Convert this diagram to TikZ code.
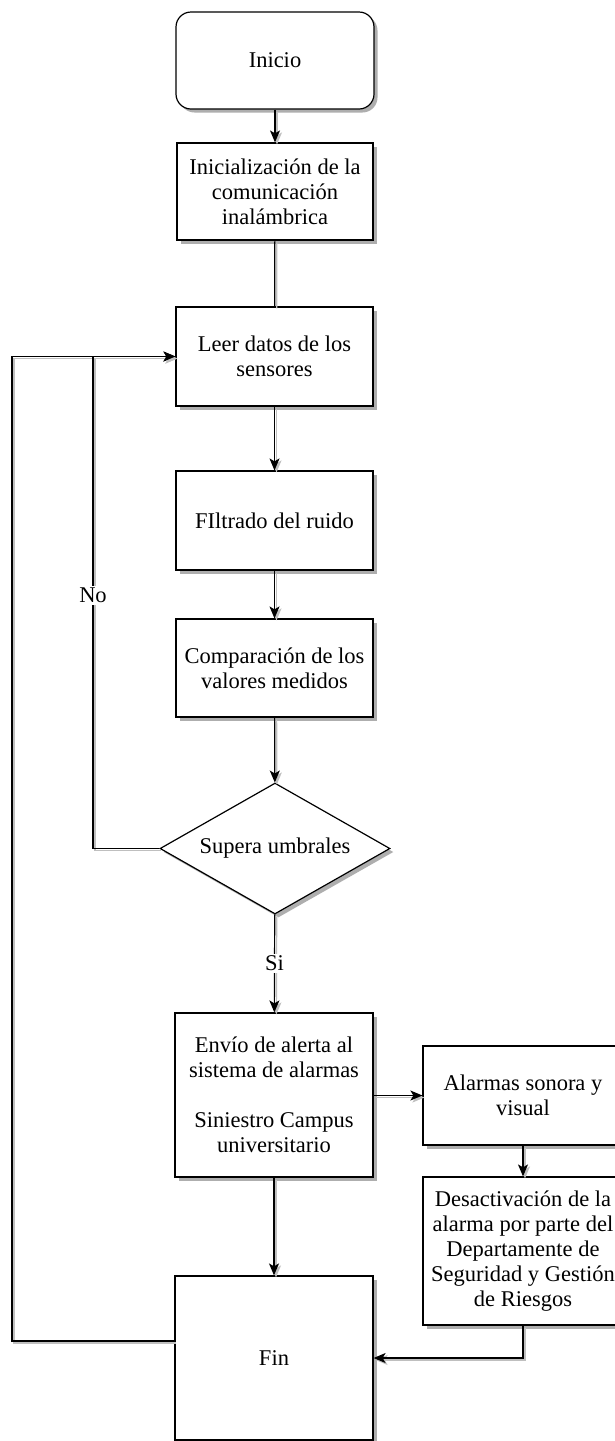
\documentclass[tikz,border=0pt]{standalone}
\usepackage{fontspec}
\setmainfont{Liberation Serif}
\usetikzlibrary{shapes.geometric,shadows,arrows.meta}
\begin{document}
\begin{tikzpicture}[x=1pt,y=-1pt,
  font=\fontsize{22.5}{25}\selectfont,
  box/.style={draw=black, line width=1.2pt, fill=white, align=center, inner sep=0pt,
    drop shadow={shadow xshift=3.5pt, shadow yshift=-3.5pt, fill=black!45, opacity=.7}},
  lsh/.style={preaction={draw=black!25, line width=1.2pt, transform canvas={shift={(2pt,-2pt)}}}},
  line/.style={lsh, draw=black, line width=1.2pt},
  conn/.style={line, -{Stealth[length=12pt,width=10pt,inset=3pt]}},
  lbl/.style={fill=white, inner sep=2pt, font=\fontsize{22.5}{25}\selectfont}]
\useasboundingbox[fill=white] (0,0) rectangle (614,1441);

\node[box, rounded corners=15pt, minimum width=198pt, minimum height=97pt] (ini) at (275,60.5) {Inicio};
\node[box, minimum width=196pt, minimum height=97pt] (init) at (275,191.5) {Inicialización de la\\comunicación\\inalámbrica};
\node[box, minimum width=197pt, minimum height=99pt] (leer) at (274.5,356.5) {Leer datos de los\\sensores};
\node[box, minimum width=197pt, minimum height=99pt] (filt) at (274.5,520.5) {FIltrado del ruido};
\node[box, minimum width=197pt, minimum height=98pt] (comp) at (274.5,668) {Comparación de los\\valores medidos};
\node[box, shape=diamond, aspect=1.756, minimum width=230pt, minimum height=131pt] (dec) at (275,848.5) {Supera umbrales};
\node[box, minimum width=198pt, minimum height=164pt] (env) at (274,1095) {Envío de alerta al\\sistema de alarmas\\[25pt]Siniestro Campus\\universitario};
\node[box, minimum width=200pt, minimum height=99pt] (alarm) at (523,1095.5) {Alarmas sonora y\\visual};
\node[box, minimum width=200pt, minimum height=148pt] (desac) at (523,1251) {Desactivación de la\\alarma por parte del\\Departamente de\\Seguridad y Gestión\\de Riesgos};
\node[box, minimum width=198pt, minimum height=164pt] (fin) at (274,1358) {Fin};

\coordinate (nb) at (93,848.5);
\coordinate (nt) at (93,356.5);
\coordinate (ob) at (12,1341);
\coordinate (ot) at (12,356.5);

\draw[conn] (ini) -- (init);
\draw[line] (init) -- (leer);
\draw[conn] (leer) -- (filt);
\draw[conn] (filt) -- (comp);
\draw[conn] (comp) -- (dec);
\draw[conn] (dec) -- node[lbl]{Si} (env);
\draw[conn] ([yshift=17pt]fin.west) -- (ob) -- (ot) -- (leer.west);
\draw[conn] (dec.west) -- (nb) -- node[lbl, pos=0.515]{No} (nt) -- (leer.west);
\draw[conn] (env.east |- alarm.west) -- (alarm.west);
\draw[conn] (alarm) -- (desac);
\draw[conn] (env) -- (fin);
\draw[conn] (desac.south) |- (fin.east);
\end{tikzpicture}
\end{document}
